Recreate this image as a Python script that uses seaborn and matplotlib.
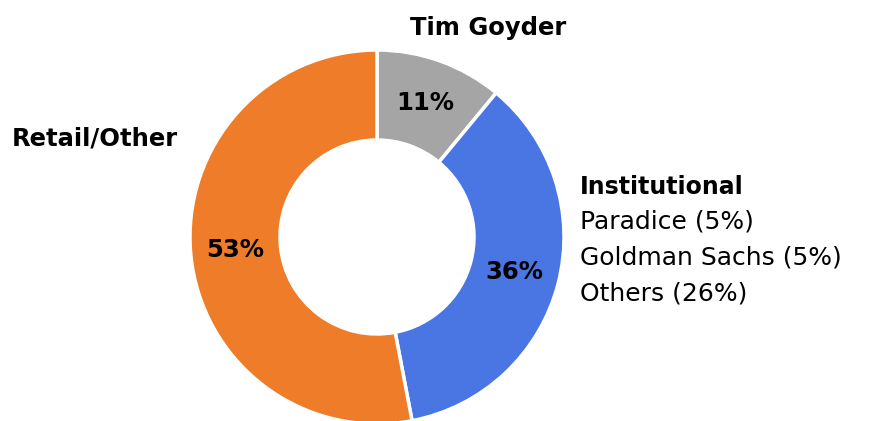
import matplotlib
matplotlib.use("Agg")
import matplotlib.pyplot as plt
import seaborn as sns

sns.set_theme(style="white")
plt.rcParams['font.family'] = ['DejaVu Sans']
plt.rcParams['text.color'] = 'black'

# shareholder split
holders = ["Tim Goyder", "Institutional", "Retail/Other"]
shares = [11, 36, 53]
colors = ["#A5A5A5", "#4A76E3", "#EE7C28"]
inst_detail = ["Paradice (5%)", "Goldman Sachs (5%)", "Others (26%)"]

fig = plt.figure(figsize=(8.76, 4.21), dpi=100)
ax = fig.add_axes([0, 0, 1, 1])

wedges, texts, autotexts = ax.pie(
    shares, colors=colors, startangle=90, counterclock=False,
    center=(377, 184), radius=187, frame=True,
    autopct=lambda p: f"{p:.0f}%", pctdistance=0.76,
    wedgeprops=dict(width=90, edgecolor="white", linewidth=2.5),
    textprops=dict(fontsize=17.5, fontweight="bold", color="black"),
)
ax.set_xlim(0, 876)
ax.set_ylim(0, 421)
ax.set_aspect("equal")
ax.axis("off")

ax.text(488, 393, holders[0], ha="center", va="center", fontsize=17.5, fontweight="bold")
ax.text(12, 282, holders[2], ha="left", va="center", fontsize=17.5, fontweight="bold")
ax.text(580, 234, holders[1], ha="left", va="center", fontsize=17, fontweight="bold")
for i, line in enumerate(inst_detail):
    ax.text(580, 200 - i * 36.5, line, ha="left", va="center", fontsize=18)

fig.savefig("out.png", dpi=100)
